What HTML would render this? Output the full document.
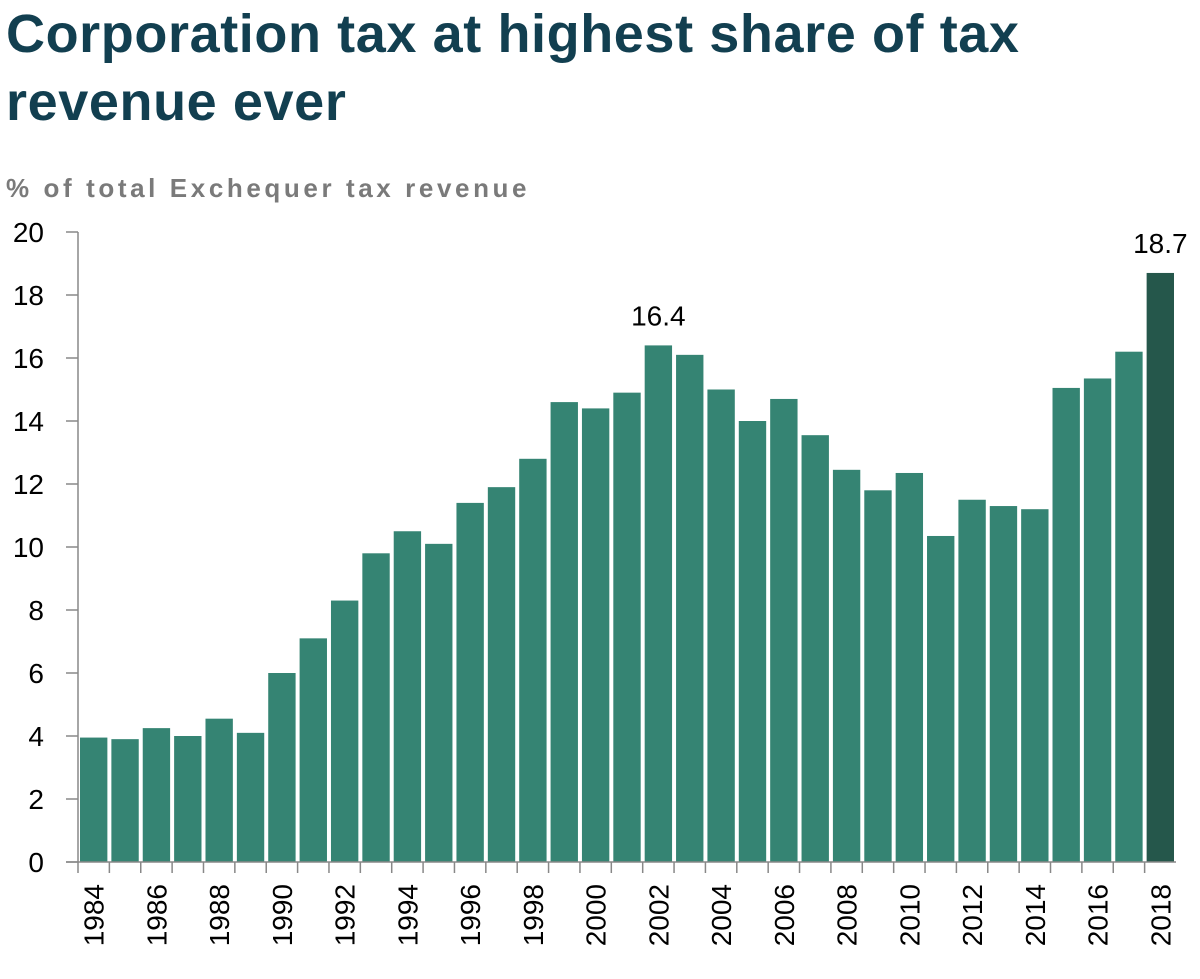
<!DOCTYPE html>
<html><head><meta charset="utf-8"><style>
body{margin:0;background:#fff;width:1200px;height:979px;overflow:hidden;font-family:"Liberation Sans",sans-serif;}
#title{position:absolute;left:6px;top:0px;font-size:54px;font-weight:bold;color:#123f50;line-height:68px;margin:0;letter-spacing:0.6px;}
#subtitle{position:absolute;left:6px;top:173px;font-size:26px;font-weight:bold;color:#7a7a7a;letter-spacing:3.6px;}
svg{position:absolute;left:0;top:0;}
</style></head><body>
<h1 id="title">Corporation tax at highest share of tax<br>revenue ever</h1>
<div id="subtitle">% of total Exchequer tax revenue</div>
<svg id="chart" width="1200" height="979"></svg>
<script>
const years=[1984,1985,1986,1987,1988,1989,1990,1991,1992,1993,1994,1995,1996,1997,1998,1999,2000,2001,2002,2003,2004,2005,2006,2007,2008,2009,2010,2011,2012,2013,2014,2015,2016,2017,2018];
const values=[3.95,3.9,4.25,4.0,4.55,4.1,6.0,7.1,8.3,9.8,10.5,10.1,11.4,11.9,12.8,14.6,14.4,14.9,16.4,16.1,15.0,14.0,14.7,13.55,12.45,11.8,12.35,10.35,11.5,11.3,11.2,15.05,15.35,16.2,18.7];
const yTicks=[0,2,4,6,8,10,12,14,16,18,20];
const annotated=[2002,2018];
const NS="http://www.w3.org/2000/svg";
const svg=document.getElementById('chart');
const x0=78,x1=1176,y0=862,y1=232;
const step=(x1-x0)/years.length;
const y=v=>y0-(v/20)*(y0-y1);
const xs=i=>x0+i*step;
function mk(t,a){const e=document.createElementNS(NS,t);for(const k in a)e.setAttribute(k,a[k]);svg.appendChild(e);return e;}
yTicks.forEach(t=>{
  const l=mk('line',{x1:66,x2:x0,y1:y(t),y2:y(t),stroke:'#888','stroke-width':1.5});
  
  
  const tx=mk('text',{x:44,y:y(t)+10,'text-anchor':'end','font-size':28,fill:'#000'});
  tx.textContent=t;
  
  
});
years.forEach((yr,i)=>{
  const last=i===years.length-1;
  const r=mk('rect',{x:xs(i)+2,y:y(values[i]),width:step-4,height:y0-y(values[i]),fill:last?'#25574b':'#358473'});
  
  
  const tk=mk('line',{x1:xs(i),x2:xs(i),y1:y0,y2:y0+11,stroke:'#888','stroke-width':1.5});
  
  
  if(i%2===0){
    const cx=xs(i)+step/2+10, cy=884;
    const t=mk('text',{x:cx,y:cy,'text-anchor':'end','font-size':28,fill:'#000',transform:`rotate(-90 ${cx} ${cy})`});
    t.textContent=yr;
    
    
  }
  if(annotated.includes(yr)){
    const a=mk('text',{x:xs(i)+step/2,y:y(values[i])-20,'text-anchor':'middle','font-size':28,fill:'#000'});
    a.textContent=values[i].toFixed(1);
    
    
  }
});
const ax=mk('line',{x1:x0,x2:x0,y1:y1,y2:y0,stroke:'#888','stroke-width':1.5});


const bx=mk('line',{x1:66,x2:x1,y1:y0,y2:y0,stroke:'#888','stroke-width':1.5});


</script>
</body></html>
